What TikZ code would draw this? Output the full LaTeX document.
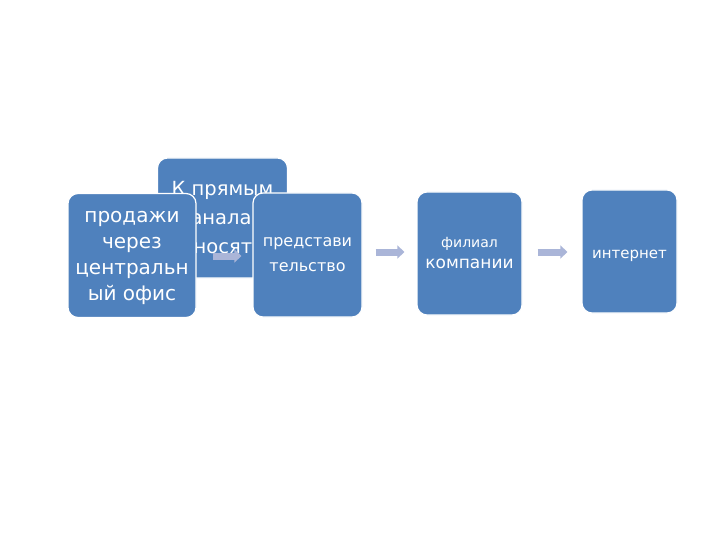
\documentclass[tikz,border=0pt]{standalone}
\usepackage{fontspec}
\setmainfont{DejaVu Sans}
\usetikzlibrary{arrows.meta}

\definecolor{boxblue}{RGB}{79,129,189}
\definecolor{arrowgray}{RGB}{170,181,216}

\begin{document}
\begin{tikzpicture}[
        x=1pt, y=-1pt,
        box/.style={draw=white, line width=1.2pt, fill=boxblue, text=white, align=center, rounded corners=10pt, inner sep=0pt},
        arrow/.style={arrowgray, line width=7pt, -{Triangle[length=7pt, width=13pt]}}
      ]
    \useasboundingbox (0,0) rectangle (720,540);

    \node (direct) [box, minimum width=130pt, minimum height=120pt, font=\fontsize{19.5}{29}\selectfont] at (222.5,218) {К прямым\\каналам\\относятся};
    \node (office) [box, minimum width=128pt, minimum height=124pt, text height=95pt, font=\fontsize{20}{26}\selectfont] at (132,255.5) {продажи\\через\\центральн\\ый офис};
    \node (agency) [box, minimum width=109pt, minimum height=124pt, font=\fontsize{16}{25}\selectfont] at (307.5,255) {представи\\тельство};
    \node (branch) [box, minimum width=105pt, minimum height=123pt, font=\fontsize{17}{21}\selectfont] at (469.5,253.5) {{\fontsize{14}{21}\selectfont филиал}\\компании};
    \node (web) [box, minimum width=95pt, minimum height=123pt, text height=17pt, font=\fontsize{15}{20}\selectfont] at (629.5,251.5) {интернет};

    \draw[arrow, shorten <=16pt, shorten >=11pt] (office.east |- 0,256) -- (agency.west |- 0,256);
    \draw[arrow, shorten <=13pt, shorten >=12pt] (agency.east |- 0,252) -- (branch.west |- 0,252);
    \draw[arrow, shorten <=15pt, shorten >=14pt] (branch.east |- 0,252) -- (web.west |- 0,252);

\end{tikzpicture}
\end{document}
